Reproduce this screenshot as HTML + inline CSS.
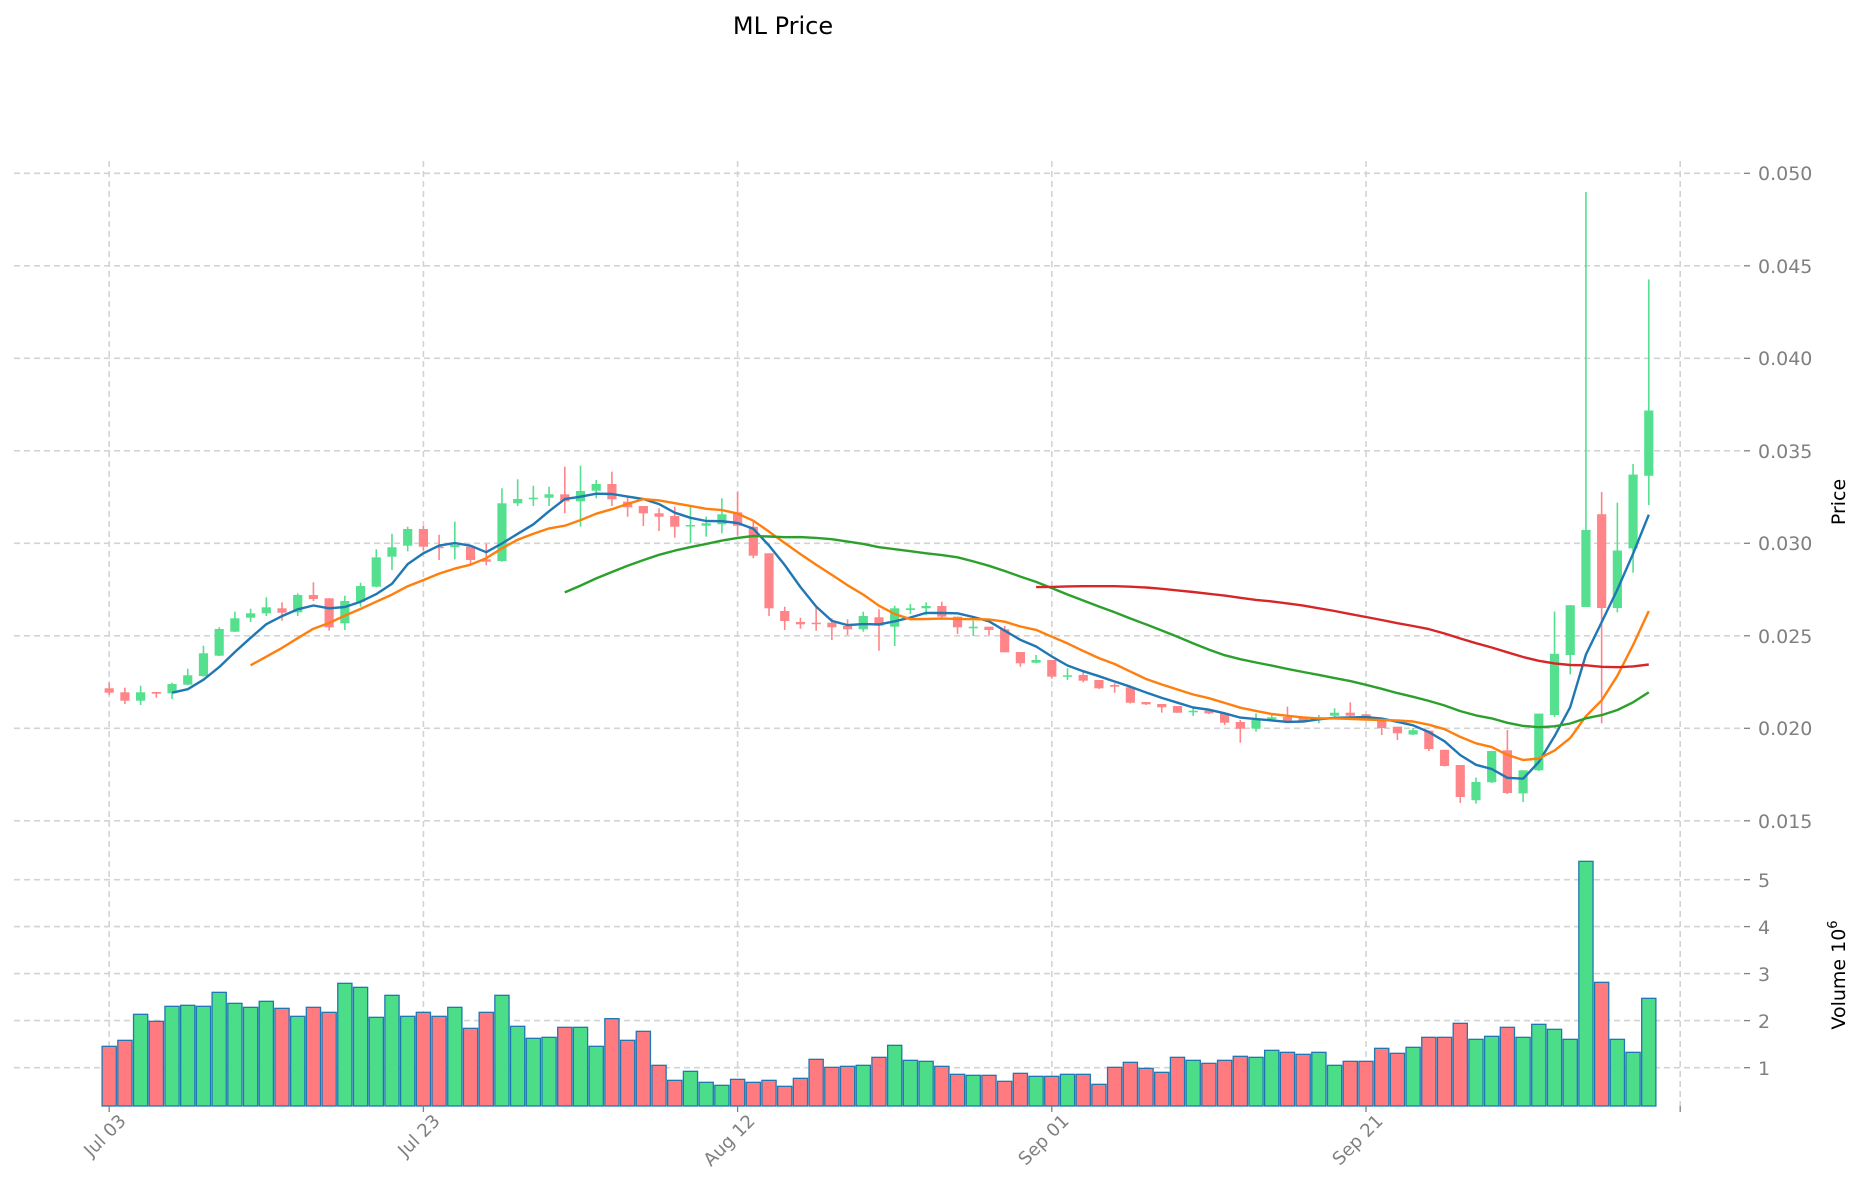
<!DOCTYPE html>
<html><head><meta charset="utf-8"><style>
html,body{margin:0;padding:0;background:#fff;}
svg{display:block;}
text{font-family:"DejaVu Sans","Liberation Sans",sans-serif;}
</style></head><body>
<svg id="c" width="1860" height="1202" viewBox="0 0 1860 1202" xmlns="http://www.w3.org/2000/svg">
<text x="783" y="34" font-size="24" text-anchor="middle" fill="#000">ML Price</text>
<g id="grid" stroke="#d3d3d3" stroke-width="1.6" stroke-dasharray="6,4" fill="none"></g>
<g id="vol"></g>
<g id="candles"></g>
<g id="mas" fill="none" stroke-width="2.4" stroke-linejoin="round"></g>
<g fill="#808080" font-size="19">
<text x="1758" y="180">0.050</text>
<text x="1758" y="273">0.045</text>
<text x="1758" y="365">0.040</text>
<text x="1758" y="458">0.035</text>
<text x="1758" y="550">0.030</text>
<text x="1758" y="643">0.025</text>
<text x="1758" y="735">0.020</text>
<text x="1758" y="828">0.015</text>
<text x="1758" y="887">5</text>
<text x="1758" y="934">4</text>
<text x="1758" y="981">3</text>
<text x="1758" y="1028">2</text>
<text x="1758" y="1075">1</text>
</g>
<g fill="#808080" font-size="18" text-anchor="end">
<text transform="translate(127,1122) rotate(-45)">Jul 03</text>
<text transform="translate(441,1122) rotate(-45)">Jul 23</text>
<text transform="translate(756,1122) rotate(-45)">Aug 12</text>
<text transform="translate(1070,1122) rotate(-45)">Sep 01</text>
<text transform="translate(1384,1122) rotate(-45)">Sep 21</text>
</g>
<text transform="translate(1845,502) rotate(-90)" font-size="19" text-anchor="middle" fill="#000">Price</text>
<text transform="translate(1845,975) rotate(-90)" font-size="19" text-anchor="middle" fill="#000">Volume  10<tspan font-size="13" dy="-8">6</tspan></text>
</svg>
<script>
var NS="http://www.w3.org/2000/svg";
function el(p,t,a){var e=document.createElementNS(NS,t);for(var k in a)e.setAttribute(k,a[k]);p.appendChild(e);return e;}
var X=function(i){return 109.2+15.71*i;};
var grid=document.getElementById('grid');
var py=[173.3,265.8,358.3,450.8,543.3,635.8,728.3,820.8];
py.forEach(function(y){el(grid,'line',{x1:14,x2:1742,y1:y,y2:y});});
var vy=[879.7,926.6,973.6,1020.6,1067.7];
vy.forEach(function(y){el(grid,'line',{x1:14,x2:1742,y1:y,y2:y});});
[0,20,40,60,80,100].forEach(function(d){el(grid,'line',{x1:X(d),x2:X(d),y1:161,y2:1106});});
var tk=document.getElementById('grid').parentNode;
var tg=el(tk,'g',{stroke:'#808080','stroke-width':1.3});
py.concat(vy).forEach(function(y){el(tg,'line',{x1:1744,x2:1750,y1:y,y2:y});});
[0,20,40,60,80,100].forEach(function(d){el(tg,'line',{x1:X(d),x2:X(d),y1:1106,y2:1112});});
var C=[
['r',688.3,692.7,682.7,695],['r',692.3,700.7,687.7,704],['g',692.3,700.7,685.7,705],['r',692,693.7,692,697.7],
['g',684,693.3,682.7,699],['g',675.3,684.7,668.7,685.3],['g',653.3,676,645.7,676.7],['g',629,655.7,627.3,656],
['g',618.3,631.7,611.7,632],['g',613.3,617.7,608.7,622],['g',607.3,613.3,597.3,616],['r',608.3,612.7,602.3,620.7],
['g',595,612.3,593.3,616],['r',595,599,582.3,601],['r',598.3,627.3,598.3,630.7],['g',601,623.3,595.7,630],
['g',586,601.7,582.7,606.7],['g',557.3,586.7,549.3,587.3],['g',547.3,556.7,533.7,570],['g',529,545.7,526.7,551.3],
['r',529,546.7,526,550.7],['r',546.7,547.7,534.7,560],['g',545,547.3,521.7,559.3],['r',546.7,560,546.7,563.7],
['r',559.3,561.7,543.7,565.3],['g',503.3,561,488.3,561.7],['g',499,503.3,479.3,506],['g',497.7,498.7,485.7,506],
['g',494.3,497.7,486.7,506],['r',494.3,501.3,466.7,513.3],['g',491,501.3,465.7,526.7],['g',484,490.7,480,498.3],
['r',484,499.3,471.7,506],['r',501.7,507.3,496.7,516.7],['r',506,513.3,506,526],['r',513.3,516.7,508.3,531],
['r',516,526.7,506.7,537.7],['g',525,526,506.7,543.3],['g',523.3,525.7,516.7,536.7],['g',514.3,524.3,498.3,533.3],
['r',512.3,525.7,491.7,535.7],['r',526.7,555.7,521.7,558.3],['r',553.3,608.3,553.3,616],['r',611,621,606.7,630],
['r',622,624.3,617.7,628.7],['r',622.7,623.7,607.7,630.7],['r',622.7,627.3,618.3,640],['r',626,629.3,619.3,635],
['g',616,629.3,611.7,631.7],['r',617.3,625.7,609.3,650.7],['g',608.3,626.7,605.7,646],['g',608.3,610,604,614],
['g',606,608.3,602.3,615],['r',606,616.7,601.7,618.3],['r',616.7,627.3,616.7,634],['g',626.7,628.3,620.7,636],
['r',626.7,630,626.7,635],['r',629.3,652.3,626,652.3],['r',652,663.3,652,666.7],['g',660,662.7,655,663.3],
['r',660,676.7,660,678.7],['g',675.3,676.7,668.3,680],['r',675,680.7,670,682.3],['r',680,688.3,680,689],
['r',685,686.7,683.3,692.7],['r',687.3,702.7,687.3,703.5],['r',702,704.3,702,705],['r',704,707.3,704,712.7],
['r',706,712.7,706,713],['g',710.7,712.3,708,716],['r',710.7,713.3,710,714],['r',713.3,722.7,713.3,725],
['r',722,728.7,720,742.7],['g',720,728.7,713.3,731.7],['g',717.3,719.3,714,720],['r',717,721,706.7,722],
['r',718,720.7,718,721],['g',717.3,719,715,723.3],['g',712.7,715.7,708.3,716.7],['r',712.7,715.7,702.3,716.7],
['r',714.3,719.3,714.3,720],['r',719.3,728,719.3,735],['r',726.7,733.3,726.7,740],['g',730.2,734.5,728,735],
['r',730.6,749,730.6,751],['r',749.8,766,749.8,766.5],['r',765,797,765,803],['g',782,800.2,777.6,803.6],
['g',751,782.3,751,783],['r',750.3,793,730,794],['g',770.3,793.4,770.3,802],['g',713.6,770.3,713.6,771],
['g',653.8,715,611.5,717],['g',605.2,655,605.2,674.3],['g',530,607,192,607],['r',514.2,608,492,723.4],
['g',550.5,608,502.7,612.4],['g',474.6,548.4,464,572.7],['g',410.5,475.8,279.5,505]];
var V=[559,541,463,484,439,436,439,397,430,442,424,445,469,442,457,370,382,472,406,469,457,469,442,505,457,406,499,535,532,502,502,559,476,541,514,616,661,634,667,676,658,667,661,679,655,598,622,619,616,592,556,
601,604,619,643,646,646,664,640,649,649,643,643,673,622,607,625,637,592,601,610,601,589,592,571,577,583,577,616,604,604,565,580,562,532,532,490,538,529,502,532,493,508,538,4,367,538,577,415];
var vg=document.getElementById('vol');
V.forEach(function(z,i){
  var top=860+z/3, c=C[i][0]=='g'?'#4cdd88':'#ff7b7f';
  el(vg,'rect',{x:X(i)-7.1,y:top,width:14.2,height:1106-top,fill:c,stroke:'#1f77b4','stroke-width':1.3});
});
var cg=document.getElementById('candles');
C.forEach(function(d,i){
  var c=d[0]=='g'?'#55e08f':'#ff8589', x=X(i);
  el(cg,'line',{x1:x,x2:x,y1:d[3],y2:d[4],stroke:c,'stroke-width':1.6});
  var h=Math.max(d[2]-d[1],1.5);
  el(cg,'rect',{x:x-4.6,y:d[1],width:9.2,height:h,fill:c});
});
var close=C.map(function(d){return d[0]=='g'?d[1]:d[2];});
var mg=document.getElementById('mas');
[[5,'#1f77b4'],[10,'#ff7f0e'],[30,'#2ca02c'],[60,'#d62728']].forEach(function(m){
  var n=m[0],pts=[];
  for(var i=n-1;i<close.length;i++){var s=0;for(var j=i-n+1;j<=i;j++)s+=close[j];pts.push(X(i).toFixed(1)+','+(s/n).toFixed(1));}
  el(mg,'polyline',{points:pts.join(' '),stroke:m[1]});
});
</script>
</body></html>
